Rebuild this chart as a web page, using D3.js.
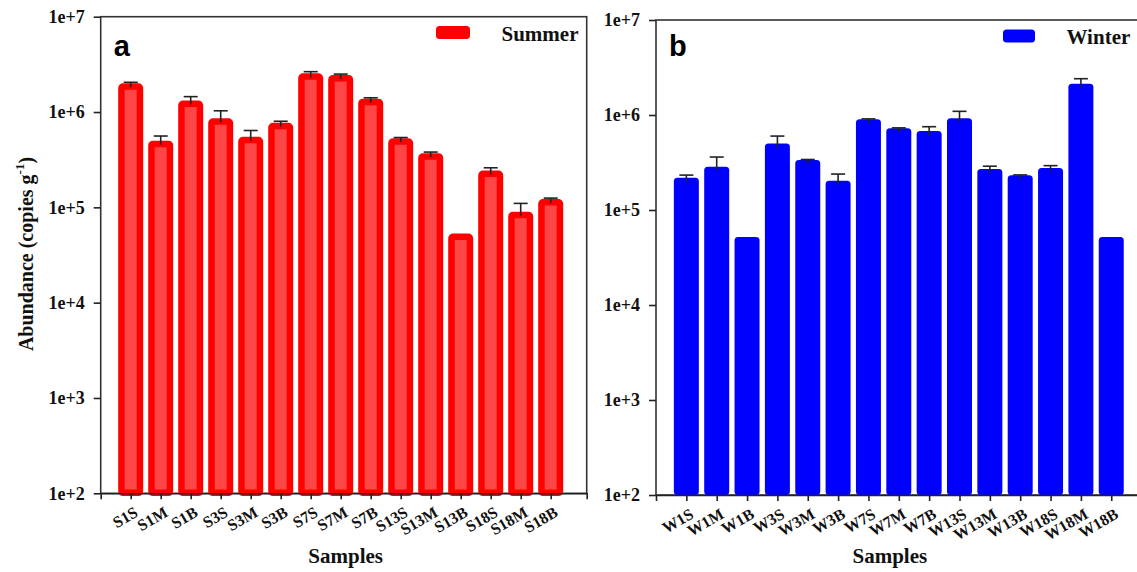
<!DOCTYPE html>
<html><head><meta charset="utf-8">
<script src="https://cdn.jsdelivr.net/npm/d3@7"></script>
<style>body{margin:0;background:#fff}svg{display:block}</style>
</head><body>
<svg id="c" width="1137" height="572"></svg>
<script>
const summerSamples = ["S1S","S1M","S1B","S3S","S3M","S3B","S7S","S7M","S7B","S13S","S13M","S13B","S18S","S18M","S18B"];
const summerValues = [2.0e6,5.0e5,1.32e6,8.6e5,5.5e5,7.7e5,2.55e6,2.45e6,1.38e6,5.3e5,3.7e5,5.3e4,2.43e5,9.0e4,1.22e5];
const summerErrors = [5e4,6e4,1.3e5,1.7e5,9e4,3e4,1e5,5e4,3e4,1e4,1e4,0,1.7e4,2.0e4,3e3];
const winterSamples = ["W1S","W1M","W1B","W3S","W3M","W3B","W7S","W7M","W7B","W13S","W13M","W13B","W18S","W18M","W18B"];
const winterValues = [2.19e5,2.86e5,5.2e4,5.0e5,3.36e5,2.03e5,9.0e5,7.24e5,6.79e5,9.23e5,2.7e5,2.32e5,2.77e5,2.13e6,5.2e4];
const winterErrors = [1.4e4,7.5e4,0,1.0e5,4e3,3.6e4,1e4,8e3,7.4e4,1.7e5,1.9e4,2e3,1.6e4,2.8e5,0];
const yTickValues = [1e2,1e3,1e4,1e5,1e6,1e7];
const yTickLabels = ["1e+2","1e+3","1e+4","1e+5","1e+6","1e+7"];

const svg = d3.select("#c");
const serif = "'Liberation Serif','Times New Roman',serif";
const sans = "'Liberation Sans',Arial,sans-serif";

function panel(o){
  const g = svg.append("g");
  const x = d3.scaleLinear().domain([0,16.2]).range([o.left, o.left + 16.2*o.step]);
  const y = d3.scaleLog().domain([1e2,1e7]).range([o.bottom, o.top]);
  g.append("rect").attr("x",o.left).attr("y",o.top).attr("width",x(16.2)-o.left).attr("height",o.bottom-o.top)
    .attr("fill","none").attr("stroke","#333").attr("stroke-width",1.6);
  const ya = d3.axisLeft(y).tickValues(yTickValues).tickFormat((d,i)=>yTickLabels[i]).tickSize(7).tickPadding(9);
  const yg = g.append("g").attr("transform",`translate(${o.left},0)`).call(ya);
  yg.select(".domain").remove();
  yg.selectAll("line").attr("stroke","#222").attr("stroke-width",1.6);
  yg.selectAll("text").attr("font-family",serif).attr("font-weight","bold").attr("font-size",18).attr("fill","#111");
  const idx = d3.range(o.samples.length);
  const bw = 25;
  if(o.style==="summer"){
    const sw = 6.5;
    g.selectAll("rect.bar").data(idx).join("rect").attr("class","bar")
      .attr("x",i=>x(i+1)-bw/2+sw/2).attr("width",bw-sw)
      .attr("y",i=>y(o.values[i])+sw/2).attr("height",i=>o.bottom-y(o.values[i])-sw/2-0.5)
      .attr("fill","#ff4646").attr("stroke","#ff0000").attr("stroke-width",sw)
      .attr("stroke-linejoin","round").attr("rx",1.5);
  } else {
    g.selectAll("rect.bar").data(idx).join("rect").attr("class","bar")
      .attr("x",i=>x(i+1)-bw/2).attr("width",bw)
      .attr("y",i=>y(o.values[i])).attr("height",i=>o.bottom-y(o.values[i]))
      .attr("fill","#0000ff").attr("rx",3.5);
  }
  const eb = idx.filter(i=>o.errors[i]>0);
  g.selectAll("line.ev").data(eb).join("line").attr("class","ev")
    .attr("x1",i=>x(i+1)).attr("x2",i=>x(i+1))
    .attr("y1",i=>y(o.values[i]+o.errors[i])).attr("y2",i=>y(o.values[i])+4)
    .attr("stroke","#222").attr("stroke-width",1.6);
  g.selectAll("line.ec").data(eb).join("line").attr("class","ec")
    .attr("x1",i=>x(i+1)-7).attr("x2",i=>x(i+1)+7)
    .attr("y1",i=>y(o.values[i]+o.errors[i])).attr("y2",i=>y(o.values[i]+o.errors[i]))
    .attr("stroke","#222").attr("stroke-width",1.6);
  const xa = d3.axisBottom(x).tickValues(d3.range(1,o.samples.length+1)).tickFormat(d=>o.samples[d-1]).tickSize(6).tickPadding(4);
  const xg = g.append("g").attr("transform",`translate(0,${o.bottom})`).call(xa);
  xg.select(".domain").attr("stroke","#222").attr("stroke-width",1.6);
  xg.selectAll("line").attr("stroke","#222").attr("stroke-width",1.6);
  xg.selectAll("text").attr("font-family",serif).attr("font-weight","bold").attr("font-size",16).attr("fill","#111")
    .attr("text-anchor","end").attr("dy",null).attr("y",null)
    .attr("transform","translate(6,19) rotate(-30)").attr("dominant-baseline","middle");
  g.append("text").attr("x",(x(0)+x(16.2))/2 + o.titleShift).attr("y",563).attr("text-anchor","middle")
    .attr("font-family",serif).attr("font-weight","bold").attr("font-size",21).attr("fill","#111").text("Samples");
  g.append("text").attr("x",o.left+13).attr("y",56).attr("font-family",sans).attr("font-weight","bold")
    .attr("font-size",29).attr("fill","#000").text(o.letter);
  g.append("rect").attr("x",o.legX).attr("y",o.legY).attr("width",o.legW).attr("height",13).attr("rx",3.5)
    .attr("fill",o.legColor);
  g.append("text").attr("x",o.legTextX).attr("y",o.legY+14.5).attr("font-family",serif).attr("font-weight","bold")
    .attr("font-size",21).attr("fill","#111").text(o.legText);
}

panel({left:100.7, top:16.7, bottom:493.3, step:30, samples:summerSamples, values:summerValues, errors:summerErrors,
  style:"summer", letter:"a", legX:436, legY:26, legW:34, legColor:"#ff0000", legTextX:501.5, legText:"Summer", titleShift:2});
panel({left:656, top:20, bottom:495, step:30.35, samples:winterSamples, values:winterValues, errors:winterErrors,
  style:"winter", letter:"b", legX:1003, legY:29.5, legW:32, legColor:"#0000ff", legTextX:1066.5, legText:"Winter", titleShift:-12});

svg.append("text").attr("transform","translate(33,254) rotate(-90)").attr("text-anchor","middle")
  .attr("font-family",serif).attr("font-weight","bold").attr("font-size",20).attr("fill","#111")
  .call(t=>{
    t.append("tspan").text("Abundance (copies g");
    t.append("tspan").attr("font-size",13).attr("dy",-9).text("-1");
    t.append("tspan").attr("dy",9).text(")");
  });
</script>
</body></html>
